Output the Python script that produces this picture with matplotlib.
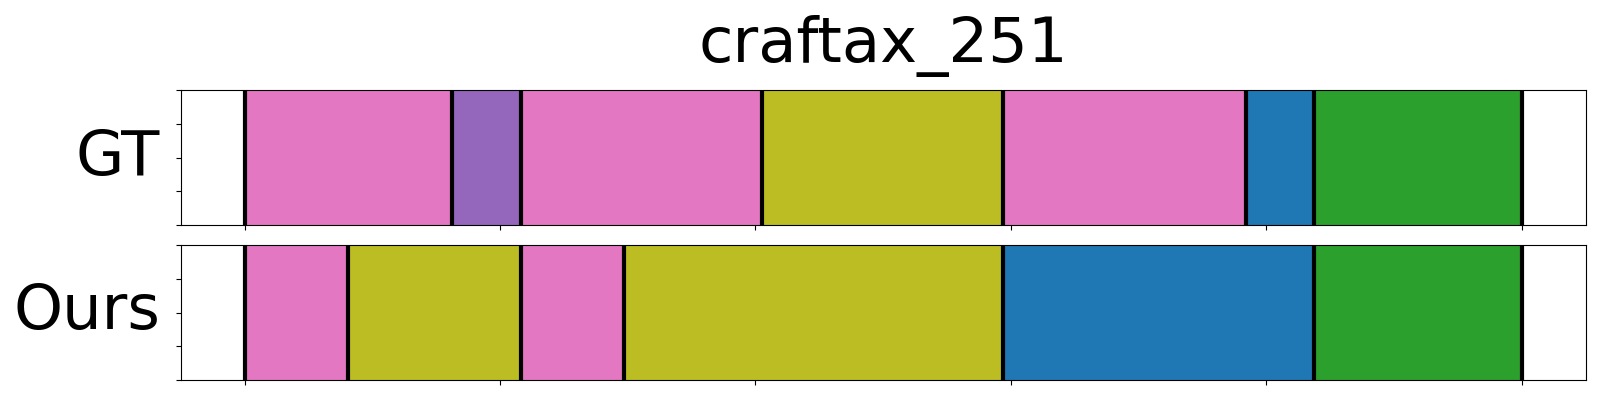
import numpy as np
import matplotlib
matplotlib.use("Agg")
import matplotlib.pyplot as plt

title = "craftax_251"
row_names = ["GT", "Ours"]

# segment boundaries (frame index) and colours for each row
gt_bounds = [0, 40.5, 54, 101.3, 148.5, 196, 209.4, 250]
gt_colors = ["#e377c2", "#9467bd", "#e377c2", "#bcbd22", "#e377c2", "#1f77b4", "#2ca02c"]

ours_bounds = [0, 20.3, 54, 74.3, 148.5, 209.4, 250]
ours_colors = ["#e377c2", "#bcbd22", "#e377c2", "#bcbd22", "#1f77b4", "#2ca02c"]

rows = [(gt_bounds, gt_colors), (ours_bounds, ours_colors)]


def draw_row(ax, bounds, colors, name):
    for i, c in enumerate(colors):
        ax.axvspan(bounds[i], bounds[i + 1], ymin=0, ymax=1, color=c, lw=0)
    for b in bounds:
        ax.axvline(b, color="black", lw=3)
    ax.set_xlim(bounds[0] - 0.05 * (bounds[-1] - bounds[0]),
                bounds[-1] + 0.05 * (bounds[-1] - bounds[0]))
    ax.set_ylim(0, 1)
    ax.set_xticks(np.arange(0, 251, 50))
    ax.set_xticklabels([])
    ax.set_yticks([0, 0.25, 0.5, 0.75, 1])
    ax.set_yticklabels([])
    ax.set_ylabel(name, fontsize=45, rotation=0, ha="right", va="center", labelpad=8)


fig = plt.figure(figsize=(16, 4), dpi=100)
ax1 = fig.add_axes([0.113, 0.4375, 0.878, 0.3375])
ax2 = fig.add_axes([0.113, 0.05, 0.878, 0.3375])

for ax, (b, c), name in zip([ax1, ax2], rows, row_names):
    draw_row(ax, b, c, name)

ax1.set_title(title, fontsize=45, pad=20)

fig.savefig("out.png", dpi=100)
